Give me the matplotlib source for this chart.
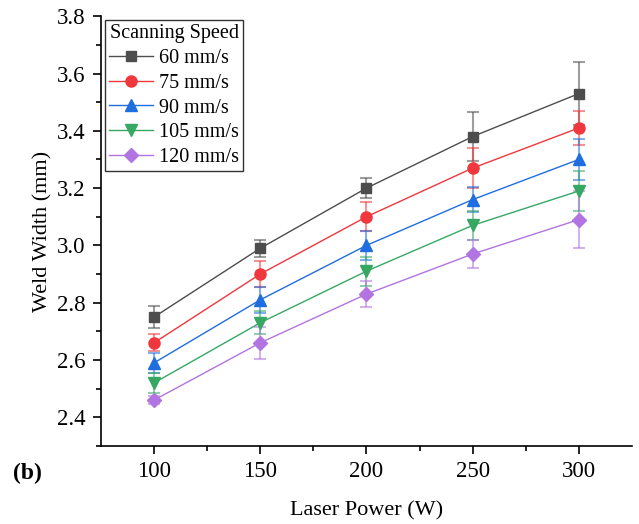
import matplotlib.pyplot as plt
import numpy as np

plt.rcParams['font.family'] = ['Liberation Serif', 'DejaVu Serif']
plt.rcParams['mathtext.fontset'] = 'stix'

power = [100, 150, 200, 250, 300]
speeds = ['60 mm/s', '75 mm/s', '90 mm/s', '105 mm/s', '120 mm/s']

w60 = [2.75, 2.99, 3.20, 3.38, 3.53]
w75 = [2.66, 2.90, 3.10, 3.27, 3.41]
w90 = [2.59, 2.81, 3.00, 3.16, 3.30]
w105 = [2.52, 2.73, 2.91, 3.07, 3.19]
w120 = [2.46, 2.66, 2.83, 2.97, 3.09]

e60 = [0.04, 0.03, 0.035, 0.085, 0.11]
e75 = [0.03, 0.045, 0.05, 0.07, 0.06]
e90 = [0.035, 0.045, 0.05, 0.045, 0.07]
e105 = [0.035, 0.04, 0.05, 0.05, 0.07]
e120 = [0.015, 0.055, 0.045, 0.05, 0.10]

widths = [w60, w75, w90, w105, w120]
errs = [e60, e75, e90, e105, e120]
colors = ['#4d4d4d', '#f0373d', '#1f6ee0', '#36a864', '#b274e0']
markers = ['s', 'o', '^', 'v', 'D']
msizes = [7, 8, 8.5, 8.5, 7]

fig = plt.figure(figsize=(6.39, 5.24), dpi=100)
ax = fig.add_axes([0.158, 0.149, 0.831, 0.82])

for w, e, c, m, ms, lab in zip(widths, errs, colors, markers, msizes, speeds):
    ax.errorbar(power, w, yerr=e, fmt='none', ecolor=c, alpha=0.55,
                elinewidth=1.5, capsize=4, capthick=1.5, zorder=2)
    ax.plot(power, w, color=c, marker=m, markersize=ms, linewidth=1,
            label=lab, zorder=3)

ax.set_xlim(75, 325)
ax.set_ylim(2.3, 3.8)
ax.set_xticks(power)
ax.set_xticks([125, 175, 225, 275], minor=True)
ax.set_yticks(np.arange(2.4, 3.81, 0.2))
ax.set_yticks(np.arange(2.3, 3.81, 0.1), minor=True)
ax.yaxis.set_major_formatter(plt.FormatStrFormatter('%.1f'))
ax.tick_params(which='major', direction='out', length=6, width=1.2,
               labelsize=16.5, pad=5)
ax.tick_params(which='minor', direction='out', length=3.5, width=1.2)
for s in ['top', 'right']:
    ax.spines[s].set_visible(False)
for s in ['left', 'bottom']:
    ax.spines[s].set_linewidth(1.2)

ax.set_xlabel('Laser Power (W)', fontsize=16, labelpad=14)
ax.set_ylabel('Weld Width (mm)', fontsize=16, labelpad=3)

leg = ax.legend(title='Scanning Speed', loc='upper left', fontsize=14.5,
                title_fontsize=14.5, frameon=True, fancybox=False,
                edgecolor='black', handlelength=2.2, borderaxespad=0.2,
                labelspacing=0.28, handletextpad=0.3, borderpad=0.2,
                bbox_to_anchor=(0.0, 1.0))
leg.get_frame().set_linewidth(1.0)

fig.text(0.02, 0.085, '(b)', fontsize=17, fontweight='bold')

fig.savefig('out.png', dpi=100)
